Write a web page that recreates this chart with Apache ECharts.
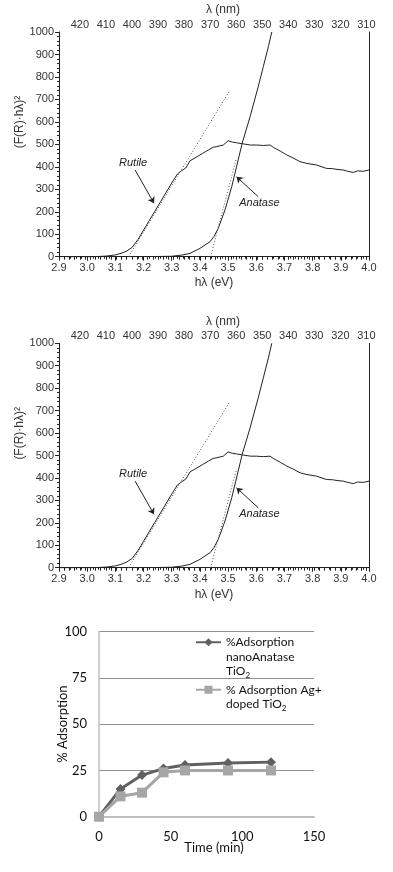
<!DOCTYPE html>
<html>
<head>
<meta charset="utf-8">
<script src="https://cdn.jsdelivr.net/npm/echarts@6/dist/echarts.min.js"></script>
<style>
  html, body { margin: 0; padding: 0; background: #fff; }
  #main { width: 393px; height: 872px; }
</style>
</head>
<body>
<div id="main"></div>
<script>
// Tauc plot: hλ (eV) vs (F(R)·hλ)²
const rutile = [
  [2.90, 0], [3.00, 0], [3.04, 1], [3.07, 3], [3.10, 8], [3.12, 15], [3.14, 25],
  [3.16, 42], [3.18, 76], [3.20, 118], [3.22, 160], [3.24, 202], [3.26, 244],
  [3.28, 286], [3.30, 328], [3.32, 368], [3.33, 378], [3.35, 395], [3.365, 427],
  [3.39, 445], [3.41, 460], [3.43, 475], [3.447, 487], [3.46, 490], [3.483, 497],
  [3.50, 516], [3.515, 510], [3.53, 507], [3.554, 502], [3.58, 497], [3.60, 497],
  [3.625, 495], [3.649, 497], [3.66, 487], [3.685, 470], [3.708, 453], [3.73, 440],
  [3.755, 423], [3.78, 415], [3.814, 408], [3.849, 393], [3.87, 392], [3.89, 388],
  [3.908, 386], [3.925, 380], [3.944, 375], [3.96, 382], [3.98, 380], [4.00, 386]
];
const anatase = [
  [2.90, 0], [3.20, 0], [3.30, 2], [3.34, 8], [3.365, 15], [3.40, 37], [3.436, 67],
  [3.45, 90], [3.465, 126], [3.489, 208], [3.513, 312], [3.53, 400], [3.55, 505],
  [3.578, 623], [3.607, 757], [3.625, 846], [3.643, 935], [3.655, 1000]
];
const rutileTangent = [[3.147, 0], [3.507, 742]];
const anataseTangent = [[3.438, 0], [3.53, 440]];
const lambdaLabels = [420, 410, 400, 390, 380, 370, 360, 350, 340, 330, 320, 310];

// annotations (data coordinates)
const rutileArrow = [[3.170, 386], [3.237, 238]];
const anataseArrow = [[3.607, 267], [3.530, 356]];
const rutileLabel = [3.163, 417];
const anataseLabel = [3.611, 238];

// adsorption vs time
const times = [0, 15, 30, 45, 60, 90, 120];
const nanoAnatase = [0, 15, 22.5, 26, 28, 29, 29.5];
const agDoped = [0, 11, 13, 24, 25, 25, 25];
const s1Name = '%Adsorption nanoAnatase TiO2';
const s2Name = '% Adsorption Ag+ doped TiO2';

const taucFont = '"Liberation Sans", Arial, sans-serif';
const xlFont = 'Lato, "Open Sans", sans-serif';
const ink = '#222';

const lambdaTicks = [];
for (let v = 310; v <= 428; v += 2) lambdaTicks.push(v);

const taucGrids = [
  { left: 59, top: 32, width: 310, height: 224.7 },
  { left: 59, top: 343.3, width: 310, height: 224.4 }
];

const xAxes = [];
const yAxes = [];
const series = [];
const graphics = [];

taucGrids.forEach(function (g, gi) {
  xAxes.push({
    gridIndex: gi, type: 'value', position: 'bottom',
    min: 2.9, max: 4.0, interval: 0.1,
    axisLine: { lineStyle: { color: ink, width: 1 } },
    axisTick: { length: 4, lineStyle: { color: ink } },
    minorTick: { show: true, splitNumber: 5, length: 2, lineStyle: { color: ink } },
    axisLabel: {
      margin: 6, fontFamily: taucFont, fontSize: 11, color: '#333',
      showMinLabel: true, showMaxLabel: true,
      formatter: function (v) { return v.toFixed(1); }
    },
    splitLine: { show: false }
  });
  xAxes.push({
    gridIndex: gi, type: 'value', position: 'top', inverse: true,
    min: 309, max: 428,
    axisLine: { lineStyle: { color: ink, width: 1 } },
    axisTick: { inside: true, length: 3, customValues: lambdaTicks, lineStyle: { color: ink } },
    axisLabel: { margin: 2, fontFamily: taucFont, fontSize: 11, color: '#333', customValues: lambdaLabels },
    splitLine: { show: false }
  });
  yAxes.push({
    gridIndex: gi, type: 'value', position: 'left',
    min: 0, max: 1000, interval: 100,
    axisLine: { show: true, lineStyle: { color: ink, width: 1 } },
    axisTick: { show: true, length: 4, lineStyle: { color: ink } },
    minorTick: { show: true, splitNumber: 5, length: 2, lineStyle: { color: ink } },
    axisLabel: {
      margin: 5, fontFamily: taucFont, fontSize: 11, color: '#333',
      formatter: function (v) { return String(v); }
    },
    splitLine: { show: false }
  });
  yAxes.push({
    gridIndex: gi, type: 'value', position: 'right',
    min: 0, max: 1000,
    axisLine: { show: true, lineStyle: { color: ink, width: 1 } },
    axisTick: { show: false }, axisLabel: { show: false }, splitLine: { show: false }
  });

  const xi = gi * 2, yi = gi * 2;
  const arrowMark = function (pts) {
    return {
      silent: true, symbol: ['none', 'arrow'], symbolSize: 6,
      lineStyle: { color: ink, width: 1, type: 'solid' },
      label: { show: false },
      data: [[{ coord: pts[0] }, { coord: pts[1] }]]
    };
  };
  const textMark = function (name, pos) {
    return {
      silent: true, symbol: 'circle', symbolSize: 1,
      itemStyle: { color: 'rgba(0,0,0,0)' },
      label: {
        show: true, position: 'inside', formatter: '{b}',
        fontStyle: 'italic', fontFamily: taucFont, fontSize: 11, color: ink
      },
      data: [{ name: name, coord: pos }]
    };
  };
  series.push({
    type: 'line', xAxisIndex: xi, yAxisIndex: yi, data: rutile,
    showSymbol: false, lineStyle: { color: ink, width: 1 },
    markLine: arrowMark(rutileArrow), markPoint: textMark('Rutile', rutileLabel)
  });
  series.push({
    type: 'line', xAxisIndex: xi, yAxisIndex: yi, data: anatase,
    showSymbol: false, lineStyle: { color: ink, width: 1 },
    markLine: arrowMark(anataseArrow), markPoint: textMark('Anatase', anataseLabel)
  });
  series.push({
    type: 'line', xAxisIndex: xi, yAxisIndex: yi, data: rutileTangent,
    showSymbol: false, lineStyle: { color: '#555', width: 1, type: [1, 2] }
  });
  series.push({
    type: 'line', xAxisIndex: xi, yAxisIndex: yi, data: anataseTangent,
    showSymbol: false, lineStyle: { color: '#555', width: 1, type: [1, 2] }
  });

  const off = g.top - 32;
  graphics.push({
    type: 'text', x: 223, y: 10 + off,
    style: { text: 'λ (nm)', font: '12px ' + taucFont, fill: '#333', align: 'center', verticalAlign: 'middle' }
  });
  graphics.push({
    type: 'text', x: 214, y: 283 + off,
    style: { text: 'hλ (eV)', font: '12px ' + taucFont, fill: '#333', align: 'center', verticalAlign: 'middle' }
  });
  graphics.push({
    type: 'text', x: 20, y: 122 + off, rotation: Math.PI / 2,
    style: { text: '(F(R)·hλ)²', font: '12px ' + taucFont, fill: '#333', align: 'center', verticalAlign: 'middle' }
  });
});

// adsorption chart
xAxes.push({
  gridIndex: 2, type: 'value', min: 0, max: 150, interval: 50,
  axisLine: { lineStyle: { color: '#bfbfbf', width: 2 } },
  axisTick: { show: false },
  axisLabel: { margin: 14, fontFamily: xlFont, fontSize: 13, color: '#111' },
  splitLine: { show: false }
});
yAxes.push({
  gridIndex: 2, type: 'value', min: 0, max: 100, interval: 25,
  axisLine: { show: true, lineStyle: { color: '#bfbfbf', width: 1.5 } },
  axisTick: { show: false },
  axisLabel: { margin: 12, fontFamily: xlFont, fontSize: 13, color: '#111' },
  splitLine: { lineStyle: { color: '#8f8f8f', width: 1 } }
});
series.push({
  name: s1Name, type: 'line', xAxisIndex: 4, yAxisIndex: 4,
  data: times.map(function (t, i) { return [t, nanoAnatase[i]]; }),
  symbol: 'diamond', symbolSize: 10,
  lineStyle: { color: '#606060', width: 3 }, itemStyle: { color: '#606060' }
});
series.push({
  name: s2Name, type: 'line', xAxisIndex: 4, yAxisIndex: 4,
  data: times.map(function (t, i) { return [t, agDoped[i]]; }),
  symbol: 'rect', symbolSize: 10,
  lineStyle: { color: '#a6a6a6', width: 3 }, itemStyle: { color: '#a6a6a6' }
});
graphics.push({
  type: 'text', x: 214, y: 848,
  style: { text: 'Time (min)', font: '13px ' + xlFont, fill: '#111', align: 'center', verticalAlign: 'middle' }
});
graphics.push({
  type: 'text', x: 63, y: 724, rotation: Math.PI / 2,
  style: { text: '% Adsorption', font: '13px ' + xlFont, fill: '#111', align: 'center', verticalAlign: 'middle' }
});

const legendText = {
  fontFamily: xlFont, fontSize: 12, lineHeight: 14.5, color: '#111',
  rich: { sub: { fontFamily: xlFont, fontSize: 8, color: '#111', padding: [8, 0, 0, 0] } }
};

const chart = echarts.init(document.getElementById('main'));
chart.setOption({
  animation: false,
  backgroundColor: '#fff',
  grid: [
    taucGrids[0], taucGrids[1],
    { left: 99, top: 631.7, width: 215, height: 185 }
  ],
  legend: [
    {
      data: [{ name: s1Name, textStyle: { padding: [29, 0, 0, 0] } }],
      left: 195, top: 606, orient: 'vertical', padding: 0,
      itemWidth: 25, itemHeight: 10, selectedMode: false,
      formatter: function () { return '%Adsorption\nnanoAnatase\nTiO{sub|2}'; },
      textStyle: legendText
    },
    {
      data: [{ name: s2Name, textStyle: { padding: [14.5, 0, 0, 0] } }],
      left: 195, top: 668, orient: 'vertical', padding: 0,
      itemWidth: 25, itemHeight: 10, selectedMode: false,
      formatter: function () { return '% Adsorption Ag+\ndoped TiO{sub|2}'; },
      textStyle: legendText
    }
  ],
  xAxis: xAxes,
  yAxis: yAxes,
  series: series,
  graphic: graphics
});
</script>
</body>
</html>
